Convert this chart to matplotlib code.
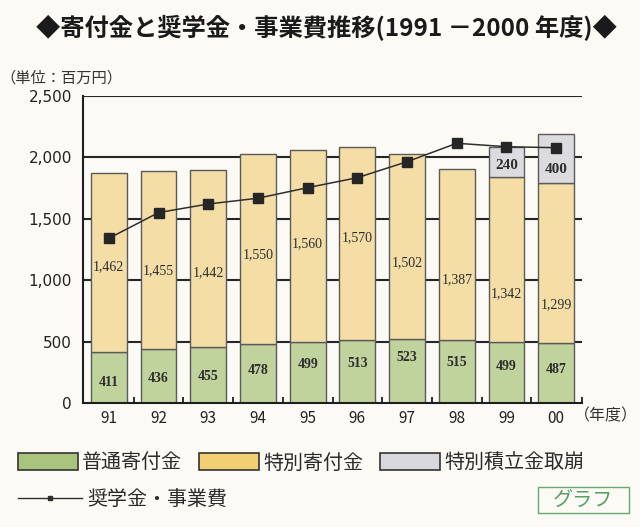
import numpy as np
import matplotlib
matplotlib.use("Agg")
import matplotlib.pyplot as plt
from matplotlib.patches import Patch, Rectangle
from matplotlib.lines import Line2D

plt.rcParams['font.family'] = ['Noto Sans CJK JP', 'DejaVu Sans']

years = ["91", "92", "93", "94", "95", "96", "97", "98", "99", "00"]
futsu = [411, 436, 455, 478, 499, 513, 523, 515, 499, 487]        # 普通寄付金
tokubetsu = [1462, 1455, 1442, 1550, 1560, 1570, 1502, 1387, 1342, 1299]  # 特別寄付金
torikuzushi = [0, 0, 0, 0, 0, 0, 0, 0, 240, 400]                  # 特別積立金取崩
shogaku = [1340, 1549, 1619, 1666, 1752, 1833, 1963, 2113, 2085, 2077]  # 奨学金・事業費

# where the value labels sit inside each segment (fraction of segment height)
green_lab_pos = [0.40, 0.46, 0.48, 0.55, 0.62, 0.63, 0.70, 0.64, 0.60, 0.56]
yellow_lab_pos = [0.48, 0.44, 0.42, 0.47, 0.51, 0.53, 0.41, 0.35, 0.29, 0.24]
gray_lab_pos = [0.5] * 8 + [0.39, 0.29]

bg = "#fcfaf5"
c_green = "#c1d39c"
c_yellow = "#f4dea6"
c_gray = "#dcdce0"
edge = "#5a5a5a"

fig = plt.figure(figsize=(6.4, 5.27), dpi=100, facecolor=bg)
ax = fig.add_axes([83 / 640, 1 - 403 / 527, 499 / 640, 307.3 / 527])
ax.set_facecolor(bg)

x = np.arange(len(years))
g = np.array(futsu)
y = np.array(tokubetsu)
r = np.array(torikuzushi)
w = 0.72

ax.bar(x, g, w, color=c_green, edgecolor=edge, linewidth=1.0, zorder=2)
ax.bar(x, y, w, bottom=g, color=c_yellow, edgecolor=edge, linewidth=1.0, zorder=2)
m = r > 0
ax.bar(x[m], r[m], w, bottom=(g + y)[m], color=c_gray, edgecolor=edge, linewidth=1.0, zorder=2)

ax.plot(x, shogaku, color="#2e2e2e", linewidth=1.1, marker="s", markersize=7.2,
        markerfacecolor="#262626", markeredgecolor="#262626", zorder=5)

lab_font = dict(family="Liberation Serif", fontsize=10, color="#2e2e2e",
                ha="center", va="center", zorder=4)
for i in range(len(years)):
    ax.text(x[i], g[i] * green_lab_pos[i], f"{g[i]:,}", fontweight="bold", **lab_font)
    ax.text(x[i], g[i] + y[i] * yellow_lab_pos[i], f"{y[i]:,}", **lab_font)
    if r[i] > 0:
        ax.text(x[i], g[i] + y[i] + r[i] * gray_lab_pos[i], f"{r[i]:,}",
                fontweight="bold", **dict(lab_font, fontsize=11))

ax.set_xlim(-0.52, 9.52)
ax.set_ylim(0, 2500)
for v in [500, 1000, 1500, 2000, 2500]:
    ax.axhline(v, color="#262626", linewidth=1.5, zorder=1)

for s in ["right", "top"]:
    ax.spines[s].set_visible(False)
ax.spines["left"].set_linewidth(1.5)
ax.spines["bottom"].set_linewidth(1.5)
ax.spines["left"].set_color("#1e1e1e")
ax.spines["bottom"].set_color("#1e1e1e")

ax.set_yticks([0, 500, 1000, 1500, 2000, 2500])
ax.set_yticklabels(["0", "500", "1,000", "1,500", "2,000", "2,500"],
                   fontsize=11, family="DejaVu Sans", color="#222222")
ax.tick_params(axis="y", length=0, pad=8)

ax.set_xticks(list(np.arange(0.5, 9, 1.0)) + [9.52])
ax.set_xticklabels([])
ax.tick_params(axis="x", which="major", direction="in", length=4, width=1.3, color="#1e1e1e")
ax.set_xticks(x, years, minor=True)
ax.tick_params(axis="x", which="minor", length=0, pad=5, labelsize=11, labelcolor="#222222")

fig.text(326 / 640, 1 - 28 / 527, "◆寄付金と奨学金・事業費推移(1991 －2000 年度)◆",
         fontsize=17.5, fontweight="bold", ha="center", va="center", color="#1a1a1a")
fig.text(0 / 640, 1 - 78 / 527, "（単位：百万円）", fontsize=11, ha="left", va="center",
         color="#333333")
fig.text(574 / 640, 1 - 416 / 527, "（年度）", fontsize=11.5, ha="left", va="center",
         color="#333333")

# legend
handles = [Patch(facecolor="#a9c47c", edgecolor="#333333", linewidth=1.2, label="普通寄付金"),
           Patch(facecolor="#f2cf72", edgecolor="#333333", linewidth=1.2, label="特別寄付金"),
           Patch(facecolor="#d9d9dd", edgecolor="#333333", linewidth=1.2, label="特別積立金取崩")]
leg1 = fig.legend(handles=handles, loc="center left", bbox_to_anchor=(18 / 640, 1 - 463 / 527),
                  ncol=3, frameon=False, fontsize=14.4, handlelength=3.0, handleheight=0.95,
                  handletextpad=0.2, columnspacing=0.85, borderpad=0, borderaxespad=0)
for t in leg1.get_texts():
    t.set_color("#2a2a2a")
line_h = [Line2D([], [], color="#2e2e2e", linewidth=1.0, marker="s", markersize=3.5,
                 label="奨学金・事業費")]
leg2 = fig.legend(handles=line_h, loc="center left", bbox_to_anchor=(18 / 640, 1 - 499 / 527),
                  frameon=False, fontsize=14.4, handlelength=3.2, handletextpad=0.25,
                  borderpad=0, borderaxespad=0)
for t in leg2.get_texts():
    t.set_color("#2a2a2a")

fig.add_artist(Rectangle((538 / 640, 1 - 513 / 527), 91 / 640, 26 / 527,
                         transform=fig.transFigure, fill=False, edgecolor="#6aa872",
                         linewidth=1.0))
fig.text(583.5 / 640, 1 - 500 / 527, "グラフ", fontsize=14.5, ha="center", va="center",
         color="#5a9e64", style="italic")

fig.savefig("out.png", dpi=100, facecolor=bg)
